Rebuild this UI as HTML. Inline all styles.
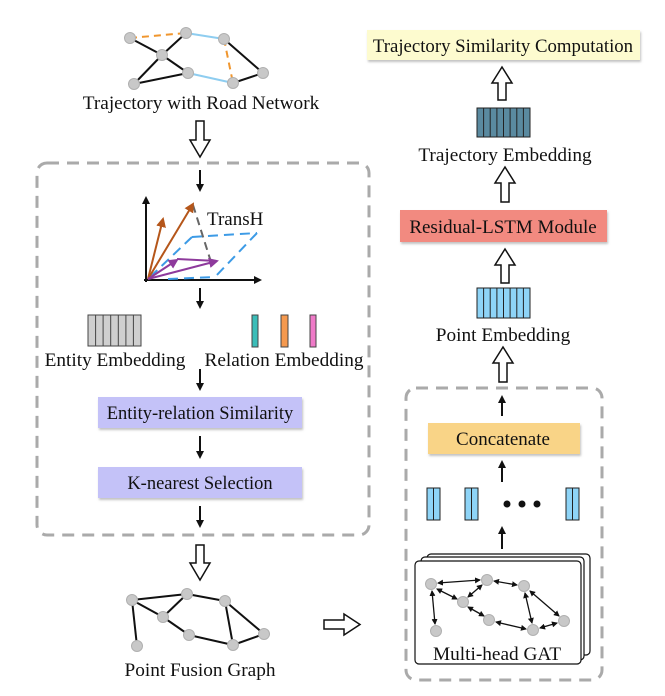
<!DOCTYPE html>
<html><head><meta charset="utf-8"><style>
html,body{margin:0;padding:0;background:#fff;}
svg{display:block;}
text{font-family:"Liberation Serif",serif;fill:#111;}
</style></head><body>
<svg width="665" height="696" viewBox="0 0 665 696" xmlns="http://www.w3.org/2000/svg">
<defs>
<marker id="ah" markerWidth="8" markerHeight="8" refX="6" refY="4" orient="auto" markerUnits="userSpaceOnUse"><path d="M0,0 L8,4 L0,8 z" fill="#111"/></marker>
<marker id="ahO" markerWidth="10" markerHeight="10" refX="8" refY="5" orient="auto" markerUnits="userSpaceOnUse"><path d="M0,0 L10,5 L0,10 z" fill="#b5561a"/></marker>
<marker id="ahP" markerWidth="10" markerHeight="10" refX="8" refY="5" orient="auto" markerUnits="userSpaceOnUse"><path d="M0,0 L10,5 L0,10 z" fill="#8e3a9c"/></marker>
<marker id="ahS" markerWidth="6" markerHeight="6" refX="5" refY="3" orient="auto-start-reverse" markerUnits="userSpaceOnUse"><path d="M0,0 L6,3 L0,6 z" fill="#111"/></marker>
<filter id="sh" x="-5%" y="-10%" width="110%" height="130%"><feDropShadow dx="1" dy="2" stdDeviation="1" flood-color="#999" flood-opacity="0.6"/></filter>
</defs>

<g stroke-width="2">
<line x1="130" y1="38" x2="186" y2="33" stroke="#f0962e" stroke-dasharray="7,5"/>
<line x1="186" y1="33" x2="224" y2="39" stroke="#8ecdf0"/>
<line x1="188" y1="73" x2="233" y2="83" stroke="#8ecdf0"/>
<line x1="224" y1="39" x2="233" y2="83" stroke="#f0962e" stroke-dasharray="7,5"/>
<g stroke="#111">
<line x1="130" y1="38" x2="162" y2="55"/><line x1="162" y1="55" x2="186" y2="33"/>
<line x1="162" y1="55" x2="188" y2="73"/><line x1="134" y1="84" x2="162" y2="55"/>
<line x1="134" y1="84" x2="188" y2="73"/><line x1="224" y1="39" x2="263" y2="73"/>
<line x1="263" y1="73" x2="233" y2="83"/>
</g></g>
<g fill="#c8c8c8" stroke="#b0b0b0">
<circle cx="130" cy="38" r="5.5"/><circle cx="186" cy="33" r="5.5"/><circle cx="224" cy="39" r="5.5"/>
<circle cx="162" cy="55" r="5.5"/><circle cx="188" cy="73" r="5.5"/><circle cx="134" cy="84" r="5.5"/>
<circle cx="233" cy="83" r="5.5"/><circle cx="263" cy="73" r="5.5"/>
</g>
<text x="201" y="109" font-size="19.3" text-anchor="middle">Trajectory with Road Network</text>

<path d="M196,121 H204 V140 H210 L200,157 L190,140 H196 Z" fill="#fff" stroke="#111" stroke-width="1.5"/>

<rect x="37" y="163" width="332" height="372" rx="10" fill="none" stroke="#aaa" stroke-width="3" stroke-dasharray="12,8"/>

<line x1="200" y1="170" x2="200" y2="190" stroke="#111" stroke-width="2" marker-end="url(#ah)"/>

<line x1="146" y1="282" x2="146" y2="198" stroke="#111" stroke-width="2" marker-end="url(#ah)"/>
<line x1="144" y1="280" x2="260" y2="280" stroke="#111" stroke-width="2" marker-end="url(#ah)"/>
<g stroke="#3d9be6" stroke-width="2" stroke-dasharray="10,6" fill="none">
<line x1="150" y1="277" x2="192" y2="237"/><line x1="192" y1="237" x2="257" y2="233"/>
<line x1="257" y1="233" x2="215" y2="277"/><line x1="168" y1="279" x2="215" y2="277"/>
</g>
<line x1="193" y1="205" x2="211" y2="262" stroke="#666" stroke-width="2" stroke-dasharray="8,5"/>
<line x1="148" y1="279" x2="163" y2="219" stroke="#b5561a" stroke-width="2" marker-end="url(#ahO)"/>
<line x1="148" y1="279" x2="193" y2="204" stroke="#b5561a" stroke-width="2" marker-end="url(#ahO)"/>
<line x1="148" y1="279" x2="177" y2="260" stroke="#8e3a9c" stroke-width="2" marker-end="url(#ahP)"/>
<line x1="148" y1="279" x2="217" y2="261" stroke="#8e3a9c" stroke-width="2" marker-end="url(#ahP)"/>
<line x1="177" y1="259" x2="217" y2="261" stroke="#8e3a9c" stroke-width="2"/>
<text x="207" y="225" font-size="19">TransH</text>

<line x1="200" y1="288" x2="200" y2="307" stroke="#111" stroke-width="2" marker-end="url(#ah)"/>

<g stroke="#444" stroke-width="1" fill="#cfcfcf">
<rect x="88" y="315" width="53" height="31"/>
<line x1="95.6" y1="315" x2="95.6" y2="346"/><line x1="103.1" y1="315" x2="103.1" y2="346"/>
<line x1="110.7" y1="315" x2="110.7" y2="346"/><line x1="118.3" y1="315" x2="118.3" y2="346"/>
<line x1="125.9" y1="315" x2="125.9" y2="346"/><line x1="133.4" y1="315" x2="133.4" y2="346"/>
</g>
<rect x="252" y="315" width="6" height="32" fill="#3bbdb8" stroke="#444"/>
<rect x="281" y="315" width="7" height="32" fill="#f5994e" stroke="#444"/>
<rect x="310" y="315" width="6" height="32" fill="#ef7ac8" stroke="#444"/>
<text x="115" y="366" font-size="19.3" text-anchor="middle">Entity Embedding</text>
<text x="284" y="366" font-size="19.3" text-anchor="middle">Relation Embedding</text>

<line x1="200" y1="369" x2="200" y2="389" stroke="#111" stroke-width="2" marker-end="url(#ah)"/>
<rect x="98" y="397" width="204" height="31" fill="#c4c2f8" filter="url(#sh)"/>
<text x="200" y="419" font-size="18.5" text-anchor="middle">Entity-relation Similarity</text>
<line x1="200" y1="436" x2="200" y2="457" stroke="#111" stroke-width="2" marker-end="url(#ah)"/>
<rect x="98" y="467" width="204" height="31" fill="#c4c2f8" filter="url(#sh)"/>
<text x="200" y="489" font-size="18.5" text-anchor="middle">K-nearest Selection</text>
<line x1="200" y1="506" x2="200" y2="526" stroke="#111" stroke-width="2" marker-end="url(#ah)"/>

<path d="M196,545 H204 V563 H210 L200,580 L190,563 H196 Z" fill="#fff" stroke="#111" stroke-width="1.5"/>

<g stroke="#111" stroke-width="2">
<line x1="132" y1="600" x2="187" y2="594"/><line x1="132" y1="600" x2="163" y2="617"/>
<line x1="163" y1="617" x2="187" y2="594"/><line x1="187" y1="594" x2="225" y2="601"/>
<line x1="132" y1="600" x2="137" y2="646"/><line x1="163" y1="617" x2="189" y2="635"/>
<line x1="189" y1="635" x2="233" y2="645"/><line x1="225" y1="601" x2="233" y2="645"/>
<line x1="225" y1="601" x2="264" y2="634"/><line x1="264" y1="634" x2="233" y2="645"/>
</g>
<g fill="#c8c8c8" stroke="#b0b0b0">
<circle cx="132" cy="600" r="5.5"/><circle cx="187" cy="594" r="5.5"/><circle cx="225" cy="601" r="5.5"/>
<circle cx="163" cy="617" r="5.5"/><circle cx="189" cy="635" r="5.5"/><circle cx="233" cy="645" r="5.5"/>
<circle cx="264" cy="634" r="5.5"/><circle cx="137" cy="646" r="5.5"/>
</g>
<text x="200" y="676" font-size="19.3" text-anchor="middle">Point Fusion Graph</text>

<path d="M324,620 H344 V614 L360,624.5 L344,635 V629 H324 Z" fill="#fff" stroke="#111" stroke-width="1.5"/>

<rect x="367" y="30" width="273" height="30" fill="#fdfbcf" filter="url(#sh)"/>
<text x="503" y="52" font-size="18.8" text-anchor="middle">Trajectory Similarity Computation</text>
<path d="M502,67 L512,83 H506 V100 H498 V83 H492 Z" fill="#fff" stroke="#111" stroke-width="1.5"/>
<g stroke="#222" stroke-width="1" fill="#5a8aa0">
<rect x="477" y="108" width="53" height="29"/>
<line x1="483.6" y1="108" x2="483.6" y2="137"/><line x1="490.2" y1="108" x2="490.2" y2="137"/>
<line x1="496.9" y1="108" x2="496.9" y2="137"/><line x1="503.5" y1="108" x2="503.5" y2="137"/>
<line x1="510.1" y1="108" x2="510.1" y2="137"/><line x1="516.8" y1="108" x2="516.8" y2="137"/>
<line x1="523.4" y1="108" x2="523.4" y2="137"/>
</g>
<text x="505" y="161" font-size="19.3" text-anchor="middle">Trajectory Embedding</text>
<path d="M505,167 L515,183 H509 V202 H501 V183 H495 Z" fill="#fff" stroke="#111" stroke-width="1.5"/>
<rect x="400" y="210" width="207" height="32" fill="#f28a80" filter="url(#sh)"/>
<text x="503" y="233" font-size="19" text-anchor="middle">Residual-LSTM Module</text>
<path d="M505,249 L515,265 H509 V283 H501 V265 H495 Z" fill="#fff" stroke="#111" stroke-width="1.5"/>
<g stroke="#222" stroke-width="1" fill="#8ed4f7">
<rect x="477" y="288" width="53" height="30"/>
<line x1="483.6" y1="288" x2="483.6" y2="318"/><line x1="490.2" y1="288" x2="490.2" y2="318"/>
<line x1="496.9" y1="288" x2="496.9" y2="318"/><line x1="503.5" y1="288" x2="503.5" y2="318"/>
<line x1="510.1" y1="288" x2="510.1" y2="318"/><line x1="516.8" y1="288" x2="516.8" y2="318"/>
<line x1="523.4" y1="288" x2="523.4" y2="318"/>
</g>
<text x="503" y="341" font-size="19.3" text-anchor="middle">Point Embedding</text>
<path d="M503,347 L513,363 H507 V382 H499 V363 H493 Z" fill="#fff" stroke="#111" stroke-width="1.5"/>

<rect x="406" y="388" width="196" height="292" rx="10" fill="none" stroke="#aaa" stroke-width="3" stroke-dasharray="12,8"/>
<line x1="502" y1="416" x2="502" y2="397" stroke="#111" stroke-width="2" marker-end="url(#ah)"/>
<rect x="428" y="423" width="152" height="31" fill="#f9d487" filter="url(#sh)"/>
<text x="503" y="445" font-size="19" text-anchor="middle">Concatenate</text>
<line x1="502" y1="482" x2="502" y2="462" stroke="#111" stroke-width="2" marker-end="url(#ah)"/>
<g stroke="#222" stroke-width="1" fill="#8ed4f7">
<rect x="427" y="488" width="13" height="32"/><line x1="433.5" y1="488" x2="433.5" y2="520"/>
<rect x="465" y="488" width="13" height="32"/><line x1="471.5" y1="488" x2="471.5" y2="520"/>
<rect x="566" y="488" width="13" height="32"/><line x1="572.5" y1="488" x2="572.5" y2="520"/>
</g>
<circle cx="507" cy="504" r="3.5" fill="#111"/><circle cx="522" cy="504" r="3.5" fill="#111"/><circle cx="537" cy="504" r="3.5" fill="#111"/>
<line x1="502" y1="549" x2="502" y2="528" stroke="#111" stroke-width="2" marker-end="url(#ah)"/>

<rect x="427" y="554" width="163" height="101" rx="4" fill="#fff" stroke="#111" stroke-width="1.2"/>
<rect x="421" y="557" width="163" height="103" rx="4" fill="#fff" stroke="#111" stroke-width="1.2"/>
<rect x="415" y="561" width="166" height="103" rx="4" fill="#fff" stroke="#111" stroke-width="1.2"/>
<g stroke="#111" stroke-width="1.3" marker-start="url(#ahS)" marker-end="url(#ahS)">
<line x1="438" y1="583" x2="480" y2="580"/><line x1="494" y1="581" x2="517" y2="585"/>
<line x1="437" y1="589" x2="457" y2="599"/><line x1="468" y1="597" x2="482" y2="585"/>
<line x1="432" y1="591" x2="435" y2="624"/><line x1="468" y1="607" x2="484" y2="616"/>
<line x1="496" y1="622" x2="526" y2="629"/><line x1="525" y1="593" x2="532" y2="623"/>
<line x1="530" y1="591" x2="559" y2="616"/><line x1="540" y1="628" x2="557" y2="623"/>
</g>
<g fill="#c8c8c8" stroke="#b0b0b0">
<circle cx="431" cy="584" r="5.5"/><circle cx="487" cy="580" r="5.5"/><circle cx="524" cy="586" r="5.5"/>
<circle cx="463" cy="602" r="5.5"/><circle cx="489" cy="620" r="5.5"/><circle cx="533" cy="630" r="5.5"/>
<circle cx="564" cy="621" r="5.5"/><circle cx="436" cy="631" r="5.5"/>
</g>
<text x="497" y="660" font-size="19.3" text-anchor="middle">Multi-head GAT</text>
</svg>
</body></html>
